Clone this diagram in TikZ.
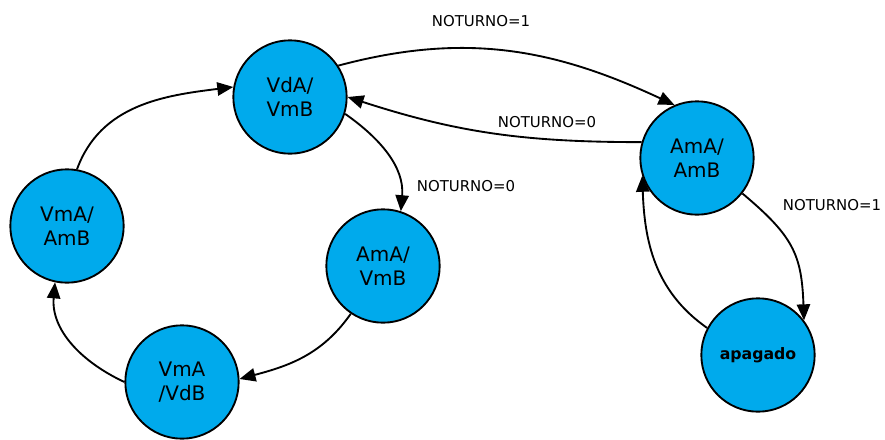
\documentclass[tikz,border=0pt]{standalone}
\usepackage{fontspec}
\setmainfont{DejaVu Sans}
\usetikzlibrary{arrows.meta}
\definecolor{statecol}{RGB}{0,170,236}
\begin{document}
\begin{tikzpicture}[x = 0.75pt, y = -0.75pt, line width = 1.4pt,
                        state/.style = {circle, draw, fill = statecol, minimum size = 85pt, inner sep = 0pt,
                                        align = center, font = \fontsize{15}{18}\selectfont},
                        lbl/.style = {font = \fontsize{11.2}{13}\selectfont, inner sep = 1pt},
                        arr/.style = {-{Triangle[length = 12pt, width = 10pt]}}]
      \useasboundingbox (0, 0) rectangle (885, 439);
      \node [state] (vda) at (290, 97){VdA/\\VmB};
      \node [state] (ama) at (697, 158){AmA/\\AmB};
      \node [state] (vma) at (67, 226){VmA/\\AmB};
      \node [state] (amv) at (383, 266){AmA/\\VmB};
      \node [state] (vmv) at (182, 382){VmA\\/VdB};
      \node [state, font = \bfseries\fontsize{11.8}{14}\selectfont] (apa) at (758, 355){apagado};
      \node [lbl] (n1) at (481, 21){NOTURNO=1};
      \node [lbl] (n2) at (547, 122){NOTURNO=0};
      \node [lbl] (n3) at (466, 186){NOTURNO=0};
      \node [lbl] (n4) at (832, 205){NOTURNO=1};
      \draw [arr] (vda.33) to[out = 15, in = 155] (ama.113);
      \draw [arr] (ama.164) to[out = 180, in = -18] (vda.0);
      \draw [arr] (vda.-17) to[out = -35, in = 85] (amv.72);
      \draw [arr] (ama.-38) to[out = -40, in = 92, looseness = 1.2] (apa.37);
      \draw [arr] (apa.152) to[out = 145, in = -88] (ama.-162);
      \draw [arr] (amv.-124) to[out = -125, in = 15] (vmv.3);
      \draw [arr] (vmv.180) to[out = 155, in = -95] (vma.-102);
      \draw [arr] (vma.80) to[out = 70, in = 187] (vda.170);

      \end{tikzpicture}
\end{document}
